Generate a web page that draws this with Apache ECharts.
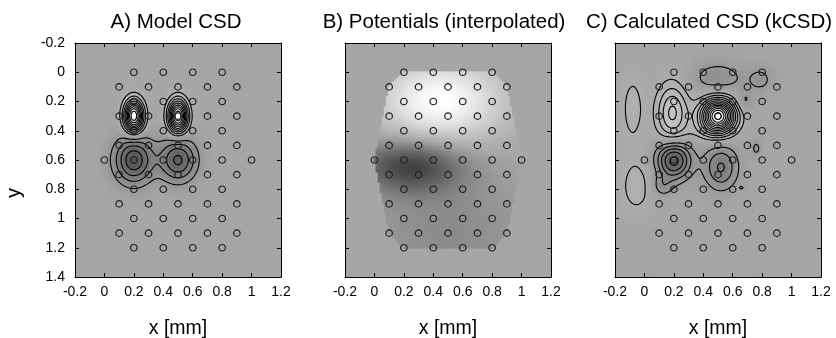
<!DOCTYPE html>
<html><head><meta charset="utf-8">
<script src="https://cdn.jsdelivr.net/npm/echarts@6/dist/echarts.min.js"></script>
<style>html,body{margin:0;padding:0;background:#fff}#c{width:836px;height:338px}</style>
</head><body><div id="c"></div>
<script>
// ---------- data ----------
const titles = ['A) Model CSD', 'B) Potentials (interpolated)', 'C) Calculated CSD (kCSD)'];
const xAxisName = 'x [mm]';
const yAxisName = 'y';
const xTickValues = [-0.2, 0, 0.2, 0.4, 0.6, 0.8, 1, 1.2];
const yTickValues = [-0.2, 0, 0.2, 0.4, 0.6, 0.8, 1, 1.2, 1.4];

// electrode positions (hexagonal layout)
const electrodeX = [
  0.2,0.4,0.6,0.8,
  0.1,0.3,0.5,0.7,0.9,
  0.2,0.4,0.6,0.8,
  0.1,0.3,0.5,0.7,0.9,
  0.2,0.4,0.6,0.8,
  0.1,0.3,0.5,0.7,0.9,
  0,0.2,0.4,0.6,0.8,1.0,
  0.1,0.3,0.5,0.7,0.9,
  0.2,0.4,0.6,0.8,
  0.1,0.3,0.5,0.7,0.9,
  0.2,0.4,0.6,0.8,
  0.1,0.3,0.5,0.7,0.9,
  0.2,0.4,0.6,0.8
];
const electrodeY = [
  0,0,0,0,
  0.1,0.1,0.1,0.1,0.1,
  0.2,0.2,0.2,0.2,
  0.3,0.3,0.3,0.3,0.3,
  0.4,0.4,0.4,0.4,
  0.5,0.5,0.5,0.5,0.5,
  0.6,0.6,0.6,0.6,0.6,0.6,
  0.7,0.7,0.7,0.7,0.7,
  0.8,0.8,0.8,0.8,
  0.9,0.9,0.9,0.9,0.9,
  1.0,1.0,1.0,1.0,
  1.1,1.1,1.1,1.1,1.1,
  1.2,1.2,1.2,1.2
];

// Panel A: model CSD sources (centre, widths, amplitude)
const srcA_x   = [0.2, 0.5, 0.2, 0.5];
const srcA_y   = [0.3, 0.3, 0.6, 0.6];
const srcA_sx  = [0.045, 0.045, 0.09, 0.085];
const srcA_sy  = [0.076, 0.076, 0.11, 0.1];
const srcA_amp = [1.0, 1.0, -0.48, -0.42];
const levelsA  = [-0.4, -0.3, -0.2, -0.1, 0.1, 0.2, 0.3, 0.4, 0.5, 0.6, 0.7, 0.8, 0.9];

// Panel B: interpolated potential blobs
const potB_x   = [0.45, 0.25, 0.5];
const potB_y   = [0.2, 0.64, 1.1];
const potB_sx  = [0.3, 0.25, 0.4];
const potB_sy  = [0.2, 0.13, 0.3];
const potB_amp = [1.0, -0.85, -0.22];

// Panel C: reconstructed CSD blobs
const srcC_x   = [0.5, 0.19, 0.2, 0.12, 0.52, -0.08, -0.055, 0.5, 0.79, 0.68, 0.76, 0.66, 0.4];
const srcC_y   = [0.3, 0.28, 0.6, 0.78, 0.65, 0.25, 0.78, 0.04, 0.05, 0.2, 0.52, 0.79, 0.4];
const srcC_sx  = [0.08, 0.075, 0.08, 0.05, 0.08, 0.055, 0.08, 0.13, 0.06, 0.04, 0.025, 0.012, 0.1];
const srcC_sy  = [0.08, 0.14, 0.09, 0.05, 0.106, 0.17, 0.14, 0.08, 0.06, 0.05, 0.04, 0.01, 0.04];
const srcC_amp = [1.0, 0.34, -0.45, -0.12, -0.25, 0.12, 0.12, -0.13, -0.1, -0.1, -0.1, -0.09, 0.05];
const levelsC  = [-0.4, -0.32, -0.24, -0.16, -0.08, 0.08, 0.16, 0.24, 0.32, 0.4, 0.48, 0.56, 0.64, 0.72, 0.8, 0.88, 0.96];

// ---------- helpers ----------
const X0 = xTickValues[0], X1 = xTickValues[xTickValues.length - 1];
const Y0 = yTickValues[0], Y1 = yTickValues[yTickValues.length - 1];
const STEP = xTickValues[1] - xTickValues[0];

function field(bx, by, bsx, bsy, bamp) {
  return function (x, y) {
    let s = 0;
    for (let k = 0; k < bx.length; k++) {
      const dx = (x - bx[k]) / bsx[k], dy = (y - by[k]) / bsy[k];
      s += bamp[k] * Math.exp(-0.5 * (dx * dx + dy * dy));
    }
    return s;
  };
}
const fA = field(srcA_x, srcA_y, srcA_sx, srcA_sy, srcA_amp);
const fB = field(potB_x, potB_y, potB_sx, potB_sy, potB_amp);
const fC = field(srcC_x, srcC_y, srcC_sx, srcC_sy, srcC_amp);

// convex hull of electrodes (interpolation domain for panel B)
function hull(px, py) {
  const p = px.map((x, i) => [x, py[i]]).sort((a, b) => a[0] - b[0] || a[1] - b[1]);
  const cross = (o, a, b) => (a[0] - o[0]) * (b[1] - o[1]) - (a[1] - o[1]) * (b[0] - o[0]);
  const lo = [], up = [];
  for (const q of p) { while (lo.length >= 2 && cross(lo[lo.length - 2], lo[lo.length - 1], q) <= 1e-12) lo.pop(); lo.push(q); }
  for (let i = p.length - 1; i >= 0; i--) { const q = p[i]; while (up.length >= 2 && cross(up[up.length - 2], up[up.length - 1], q) <= 1e-12) up.pop(); up.push(q); }
  up.pop(); lo.pop();
  return lo.concat(up);
}
const hullB = hull(electrodeX, electrodeY);
function inHull(x, y) {
  let inside = false;
  for (let i = 0, j = hullB.length - 1; i < hullB.length; j = i++) {
    const xi = hullB[i][0], yi = hullB[i][1], xj = hullB[j][0], yj = hullB[j][1];
    if (((yi > y) !== (yj > y)) && (x < (xj - xi) * (y - yi) / (yj - yi) + xi)) inside = !inside;
  }
  return inside;
}

// shading cells
const NCX = 100, NCY = 114;
const cdx = (X1 - X0) / NCX, cdy = (Y1 - Y0) / NCY;
function cells(f, mask) {
  const out = [];
  for (let j = 0; j < NCY; j++) for (let i = 0; i < NCX; i++) {
    const x = X0 + (i + 0.5) * cdx, y = Y0 + (j + 0.5) * cdy;
    if (mask && !mask(x, y)) continue;
    out.push([x, y, f(x, y)]);
  }
  return out;
}

// contour lines via marching squares
const NNX = 141, NNY = 161;
const nxs = [], nys = [];
for (let i = 0; i < NNX; i++) nxs.push(X0 + i * (X1 - X0) / (NNX - 1));
for (let j = 0; j < NNY; j++) nys.push(Y0 + j * (Y1 - Y0) / (NNY - 1));
function gridVals(f) {
  const v = [];
  for (let j = 0; j < NNY; j++) { const r = []; for (let i = 0; i < NNX; i++) r.push(f(nxs[i], nys[j])); v.push(r); }
  return v;
}
function contour(vals, level) {
  const pts = {}, adj = {}, segs = [];
  const ep = (key, xa, ya, va, xb, yb, vb) => {
    if (!(key in pts)) { const t = (level - va) / (vb - va); pts[key] = [xa + t * (xb - xa), ya + t * (yb - ya)]; }
    return key;
  };
  const addSeg = (k1, k2) => {
    const s = segs.length; segs.push([k1, k2]);
    (adj[k1] || (adj[k1] = [])).push(s); (adj[k2] || (adj[k2] = [])).push(s);
  };
  for (let j = 0; j < NNY - 1; j++) for (let i = 0; i < NNX - 1; i++) {
    const a = vals[j][i], b = vals[j][i + 1], c = vals[j + 1][i + 1], d = vals[j + 1][i];
    const A = a > level, B = b > level, C = c > level, D = d > level;
    const idx = (A ? 1 : 0) | (B ? 2 : 0) | (C ? 4 : 0) | (D ? 8 : 0);
    if (idx === 0 || idx === 15) continue;
    const e = {};
    if (A !== B) e.bottom = ep('h' + i + '_' + j, nxs[i], nys[j], a, nxs[i + 1], nys[j], b);
    if (B !== C) e.right = ep('v' + (i + 1) + '_' + j, nxs[i + 1], nys[j], b, nxs[i + 1], nys[j + 1], c);
    if (D !== C) e.top = ep('h' + i + '_' + (j + 1), nxs[i], nys[j + 1], d, nxs[i + 1], nys[j + 1], c);
    if (A !== D) e.left = ep('v' + i + '_' + j, nxs[i], nys[j], a, nxs[i], nys[j + 1], d);
    const ks = Object.keys(e);
    if (ks.length === 2) addSeg(e[ks[0]], e[ks[1]]);
    else if (ks.length === 4) {
      const center = (a + b + c + d) / 4 > level;
      if ((idx === 5) === center) { addSeg(e.bottom, e.right); addSeg(e.top, e.left); }
      else { addSeg(e.left, e.bottom); addSeg(e.right, e.top); }
    }
  }
  const used = new Array(segs.length).fill(false);
  const lines = [];
  for (let s = 0; s < segs.length; s++) {
    if (used[s]) continue;
    used[s] = true;
    const chain = [segs[s][0], segs[s][1]];
    let cur = segs[s][1];
    for (;;) {
      const nx = (adj[cur] || []).find(t => !used[t]);
      if (nx === undefined) break;
      used[nx] = true;
      const o = segs[nx][0] === cur ? segs[nx][1] : segs[nx][0];
      chain.push(o); cur = o;
    }
    cur = segs[s][0];
    for (;;) {
      const nx = (adj[cur] || []).find(t => !used[t]);
      if (nx === undefined) break;
      used[nx] = true;
      const o = segs[nx][0] === cur ? segs[nx][1] : segs[nx][0];
      chain.unshift(o); cur = o;
    }
    lines.push(chain.map(k => pts[k]));
  }
  return lines;
}
function allContours(f, levels) {
  const v = gridVals(f);
  let res = [];
  for (const L of levels) res = res.concat(contour(v, L));
  return res;
}

// ---------- styling ----------
const FONT = 'Liberation Sans, Arial, Helvetica, sans-serif';
const BG = 166;
const negGain = [170, 118, 170];
function grayOf(v, p) {
  let g = v >= 0 ? BG + v * (255 - BG) : BG + v * negGain[p];
  g = Math.max(0, Math.min(255, Math.round(g)));
  return 'rgb(' + g + ',' + g + ',' + g + ')';
}
const grids = [
  { left: 75, top: 43, width: 206, height: 234 },
  { left: 345, top: 43, width: 206, height: 234 },
  { left: 615, top: 43, width: 206, height: 234 }
];
const titleX = [176, 444, 709];

const option = { animation: false, grid: [], xAxis: [], yAxis: [], series: [], graphic: [] };
const axisCommon = {
  type: 'value', z: 10,
  splitLine: { show: false },
  axisLine: { show: true, onZero: false, lineStyle: { color: '#000', width: 1 } },
  axisTick: { show: true, inside: true, length: 4, lineStyle: { color: '#000', width: 1 } }
};
grids.forEach((g, p) => {
  option.grid.push(Object.assign({ show: true, backgroundColor: 'rgb(' + BG + ',' + BG + ',' + BG + ')', borderWidth: 0, containLabel: false, outerBoundsMode: 'none' }, g));
  const xa = {
    min: X0, max: X1, interval: STEP, gridIndex: p,
    axisLabel: { show: true, margin: 8, fontSize: 14, color: '#000', fontFamily: FONT, showMinLabel: true, showMaxLabel: true }
  };
  option.xAxis.push(Object.assign({}, axisCommon, xa, { position: 'bottom' }));
  option.xAxis.push(Object.assign({}, axisCommon, xa, { position: 'top', axisLabel: { show: false } }));
  const ya = {
    min: Y0, max: Y1, interval: STEP, inverse: true, gridIndex: p,
    axisLabel: { show: p === 0, margin: 10, fontSize: 14, color: '#000', fontFamily: FONT, showMinLabel: true, showMaxLabel: true }
  };
  option.yAxis.push(Object.assign({}, axisCommon, ya, { position: 'left' }));
  option.yAxis.push(Object.assign({}, axisCommon, ya, { position: 'right', axisLabel: { show: false } }));

  const f = [fA, fB, fC][p];
  const data = cells(f, p === 1 ? inHull : null);
  option.series.push({
    type: 'custom', xAxisIndex: 2 * p, yAxisIndex: 2 * p, silent: true, clip: true, progressive: 0, z: 1,
    data: data,
    renderItem: function (params, api) {
      const x = api.value(0), y = api.value(1), v = api.value(2);
      const a = api.coord([x - cdx / 2, y - cdy / 2]), b = api.coord([x + cdx / 2, y + cdy / 2]);
      return {
        type: 'rect',
        shape: { x: Math.min(a[0], b[0]) - 0.3, y: Math.min(a[1], b[1]) - 0.3, width: Math.abs(b[0] - a[0]) + 0.6, height: Math.abs(b[1] - a[1]) + 0.6 },
        style: { fill: grayOf(v, p), stroke: null }
      };
    }
  });
  const levels = [levelsA, null, levelsC][p];
  if (levels) {
    const lines = allContours(f, levels);
    option.series.push({
      type: 'custom', xAxisIndex: 2 * p, yAxisIndex: 2 * p, silent: true, clip: true, progressive: 0, z: 3,
      data: lines.map((l, k) => [l[0][0], l[0][1], k]),
      renderItem: function (params, api) {
        const line = lines[params.dataIndex];
        return {
          type: 'polyline',
          shape: { points: line.map(q => api.coord(q)) },
          style: { stroke: '#000', lineWidth: 1.1, fill: 'none', lineJoin: 'round' }
        };
      }
    });
  }
  option.series.push({
    type: 'scatter', xAxisIndex: 2 * p, yAxisIndex: 2 * p, silent: true, z: 4,
    symbol: 'circle', symbolSize: 6.5,
    itemStyle: { color: 'rgba(0,0,0,0)', borderColor: '#1e1e1e', borderWidth: 1.2, opacity: 1 },
    data: electrodeX.map((x, i) => [x, electrodeY[i]])
  });
  option.graphic.push({
    type: 'text', x: titleX[p], y: 22,
    style: { text: titles[p], fontSize: 20.5, fontFamily: FONT, fill: '#000', align: 'center', verticalAlign: 'middle' }
  });
  option.graphic.push({
    type: 'text', x: g.left + g.width / 2, y: 328.5,
    style: { text: xAxisName, fontSize: 19.5, fontFamily: FONT, fill: '#000', align: 'center', verticalAlign: 'middle' }
  });
});
option.graphic.push({
  type: 'text', x: 14, y: 193, rotation: Math.PI / 2,
  style: { text: yAxisName, fontSize: 20, fontFamily: FONT, fill: '#000', align: 'center', verticalAlign: 'middle' }
});

const chart = echarts.init(document.getElementById('c'), null, { renderer: 'canvas' });
chart.setOption(option);
</script>
</body></html>
